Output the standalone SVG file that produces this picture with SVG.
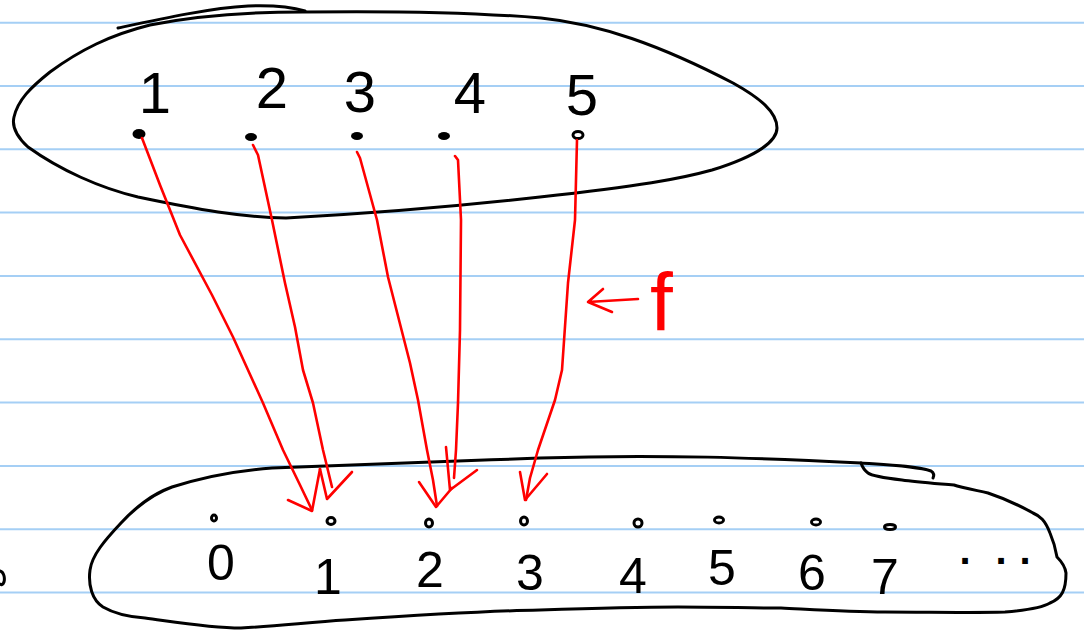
<svg xmlns="http://www.w3.org/2000/svg" width="1084" height="631" viewBox="0 0 1084 631">
<style>
.rule{stroke:#a5cff5;stroke-width:2;fill:none}
.ink{stroke:#000;stroke-width:3;fill:none;stroke-linecap:round;stroke-linejoin:round}
.red{stroke:#ff0000;stroke-width:2.6;fill:none;stroke-linecap:round;stroke-linejoin:round}
.num{font-family:"Liberation Sans",Arial,sans-serif;fill:#000;text-anchor:middle}
.dot{fill:#000}
.odot{fill:none;stroke:#000;stroke-width:3}
</style>
<rect width="1084" height="631" fill="#fff"/>
<g id="ruled-paper">
<line class="rule" x1="0" y1="22.7" x2="1084" y2="22.7"/>
<line class="rule" x1="0" y1="86" x2="1084" y2="86"/>
<line class="rule" x1="0" y1="149.3" x2="1084" y2="149.3"/>
<line class="rule" x1="0" y1="212.6" x2="1084" y2="212.6"/>
<line class="rule" x1="0" y1="276" x2="1084" y2="276"/>
<line class="rule" x1="0" y1="339.3" x2="1084" y2="339.3"/>
<line class="rule" x1="0" y1="402.6" x2="1084" y2="402.6"/>
<line class="rule" x1="0" y1="466" x2="1084" y2="466"/>
<line class="rule" x1="0" y1="529.3" x2="1084" y2="529.3"/>
<line class="rule" x1="0" y1="592.6" x2="1084" y2="592.6"/>
</g>
<g id="domain">
<path class="ink" d="M303,12 C380,11 470,12 541,18 C600,24 660,45 733,83 C760,98 777,112 777,128 C777,140 760,155 712,170 C680,179 640,186 540,197 C460,206 379,213 286,218 C240,217 200,210 138,197 C100,188 60,170 28,147 C15,135 12,125 14,117 C18,100 30,88 50,72 C80,50 110,35 150,25 C200,15 250,12 303,12 Z"/>
<path class="ink" d="M118,28 C160,19 210,8 248,6 C275,5 295,8 305,11"/>
<g id="d1"><text class="num" x="155" y="113" font-size="58">1</text><ellipse class="dot" cx="139" cy="134" rx="6.5" ry="5"/></g>
<g id="d2"><text class="num" x="272" y="108" font-size="58">2</text><ellipse class="dot" cx="251" cy="137" rx="6" ry="4"/></g>
<g id="d3"><text class="num" x="360" y="112" font-size="58">3</text><ellipse class="dot" cx="357" cy="136" rx="6" ry="4"/></g>
<g id="d4"><text class="num" x="470" y="113" font-size="58">4</text><ellipse class="dot" cx="444" cy="136" rx="6" ry="4"/></g>
<g id="d5"><text class="num" x="582" y="115" font-size="58">5</text><ellipse class="odot" cx="578" cy="135" rx="5" ry="3.5" stroke-width="4.5"/></g>
</g>
<g id="codomain">
<path class="ink" d="M861,463 C760,458 660,454 540,458 C440,462 330,465 272,468 C230,471 200,478 172,487 C150,495 135,508 121,523 C105,540 92,555 90,570 C88,585 92,600 103,607 C115,614 130,617 145,618 C175,622 210,628 241,628 C280,626 310,622 345,620 C420,615 480,611 540,610 C600,608 640,607 678,607 C720,607 750,608 781,608 C820,610 850,612 885,612 C930,612 970,613 1005,612 C1030,610 1045,606 1050,603 C1062,598 1066,590 1066,573 C1065,565 1060,560 1057,557 C1055,545 1053,540 1050,533 C1045,520 1040,516 1033,513 C1015,503 1000,497 988,493 C970,489 960,487 954,485 C930,483 915,482 902,480 C885,478 872,476 868,473 C864,470 862,466 861,463"/>
<path class="ink" d="M861,463 C890,465 915,466 931,471 C934,473 934,476 933,478"/>
<path class="ink" d="M0,571 C4,572 5,578 4,582 C3,585 1,585 0,584"/>
<g id="c0"><ellipse class="odot" cx="214" cy="518" rx="2.5" ry="3"/><text class="num" x="221" y="580" font-size="50">0</text></g>
<g id="c1"><ellipse class="odot" cx="331" cy="521" rx="4" ry="3.5"/><text class="num" x="328" y="594" font-size="50">1</text></g>
<g id="c2"><ellipse class="odot" cx="429" cy="523" rx="3.5" ry="4"/><text class="num" x="430" y="587" font-size="50">2</text></g>
<g id="c3"><ellipse class="odot" cx="524" cy="521" rx="3.5" ry="4"/><text class="num" x="530" y="590" font-size="50">3</text></g>
<g id="c4"><ellipse class="odot" cx="638" cy="523" rx="4" ry="4"/><text class="num" x="633" y="593" font-size="50">4</text></g>
<g id="c5"><ellipse class="odot" cx="719" cy="520" rx="4.5" ry="3"/><text class="num" x="722" y="585" font-size="50">5</text></g>
<g id="c6"><ellipse class="odot" cx="816" cy="522" rx="4.5" ry="3"/><text class="num" x="812" y="590" font-size="50">6</text></g>
<g id="c7"><ellipse class="odot" cx="890" cy="527" rx="5.5" ry="2.5"/><text class="num" x="885" y="594" font-size="50">7</text></g>
<g id="more"><text class="num" x="965 1001 1025" y="564" font-size="40" font-weight="bold">...</text></g>
</g>
<g id="connectors">
<path class="red" d="M142,138 L160,185 L180,235 L212,295 L233,337 L263,403 L283,450 L300,485 L312,510"/>
<path class="red" d="M288,500 L312,511 L320,469"/>
<path class="red" d="M253,145 L258,155 L272,220 L285,283 L295,327 L303,370 L313,403 L323,450 L332,487"/>
<path class="red" d="M320,469 L327,499 L352,472"/>
<path class="red" d="M357,152 L360,158 L377,220 L388,277 L410,363 L418,400 L427,450 L433,480 L437,506"/>
<path class="red" d="M419,482 L436,507 L452,488"/>
<path class="red" stroke-width="2" d="M455,156 L458,160 L461,220 L460,330 L458,403 L456,450 L454,478"/>
<path class="red" d="M446,447 L450,490 L477,470"/>
<path class="red" d="M577,140 L575,220 L568,283 L562,370 L555,400 L538,450 L530,478 L526,500"/>
<path class="red" d="M520,472 L525,500 L547,474"/>
</g>
<g id="f-label">
<path class="red" stroke-width="3" d="M638,299 L588,302 M603,289 L588,302 L612,312"/>
<text x="650" y="330" font-family="'Liberation Sans',Arial,sans-serif" font-size="82" fill="#ff0000">f</text>
</g>
</svg>
